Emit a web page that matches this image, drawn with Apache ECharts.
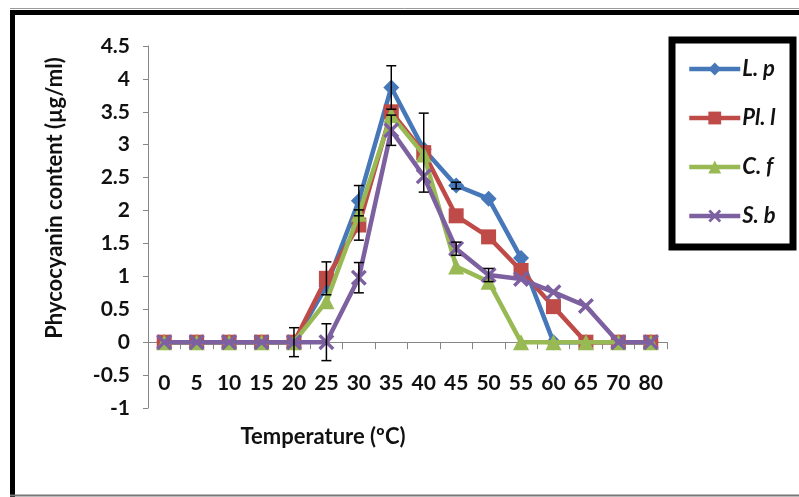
<!DOCTYPE html>
<html>
<head>
<meta charset="utf-8">
<script src="https://cdn.jsdelivr.net/npm/echarts@6/dist/echarts.min.js"></script>
<style>
html,body{margin:0;padding:0;background:#fff;}
#c{width:799px;height:497px;}
</style>
</head>
<body>
<div id="c"></div>
<script>
var temps = ['0','5','10','15','20','25','30','35','40','45','50','55','60','65','70','80'];
var yTicks = [-1, 4.5, 0.5];
var seriesNames = ['L. p','Pl. l','C. f','S. b'];
var Lp = [0,0,0,0,0,0.85,2.15,3.87,2.93,2.38,2.18,1.28,0,0,0,0];
var Pl = [0,0,0,0,0,0.97,1.78,3.5,2.88,1.92,1.6,1.09,0.54,0,0,0];
var Cf = [0,0,0,0,0,0.62,1.95,3.45,2.85,1.15,0.92,0,0,0,0,0];
var Sb = [0,0,0,0,0,0,0.98,3.22,2.52,1.42,1.02,0.96,0.76,0.55,0,0];
var errCat  = ['20','25','25','30','30','30','35','35','40','45','45','50'];
var errMid  = [0,0,0.97,2.15,1.78,0.98,3.87,3.22,2.88,2.38,1.42,1.02];
var errHalf = [0.22,0.28,0.25,0.23,0.23,0.23,0.33,0.23,0.6,0.05,0.1,0.1];

var colors = ['#4677B8','#BE4B48','#98B954','#7D60A0'];
var FONT = 'Lato';
var xSym = 'path://M0,1.5 L1.5,0 L5,3.5 L8.5,0 L10,1.5 L6.5,5 L10,8.5 L8.5,10 L5,6.5 L1.5,10 L0,8.5 L3.5,5 Z';
var symbols = ['diamond','rect','triangle',xSym];
var sizes = [16,15,16,16];
var allData = [Lp,Pl,Cf,Sb];

var chart = echarts.init(document.getElementById('c'), null, {renderer:'canvas'});

var series = allData.map(function(d,i){
  return {
    name: seriesNames[i],
    type: 'line',
    data: d,
    symbol: symbols[i],
    symbolSize: sizes[i],
    showAllSymbol: true,
    lineStyle: {color: colors[i], width: 4.5},
    itemStyle: {color: colors[i]},
    z: 2 + i,
    animation: false
  };
});

var errData = errCat.map(function(c,i){ return [c, errMid[i]-errHalf[i], errMid[i]+errHalf[i]]; });
series.push({
  type: 'custom',
  data: errData,
  z: 10,
  animation: false,
  encode: {x: 0, y: [1,2]},
  renderItem: function(params, api){
    var cat = api.value(0);
    var lo = api.coord([cat, api.value(1)]);
    var hi = api.coord([cat, api.value(2)]);
    var w = 5;
    var st = {stroke:'#000', lineWidth:1.5, fill:null};
    return {type:'group', children:[
      {type:'line', shape:{x1:lo[0],y1:lo[1],x2:hi[0],y2:hi[1]}, style:st},
      {type:'line', shape:{x1:lo[0]-w,y1:lo[1],x2:lo[0]+w,y2:lo[1]}, style:st},
      {type:'line', shape:{x1:hi[0]-w,y1:hi[1],x2:hi[0]+w,y2:hi[1]}, style:st}
    ]};
  }
});

var option = {
  animation: false,
  backgroundColor: '#fff',
  grid: {left:148, right:132, top:46, bottom:89, containLabel:false},
  xAxis: {
    type: 'category',
    data: temps,
    boundaryGap: true,
    axisLine: {onZero: true, lineStyle:{color:'#868686', width:1}},
    axisTick: {show:true, length:7, interval:0, lineStyle:{color:'#868686'}},
    axisLabel: {interval:0, margin:-35, color:'#111', fontFamily:FONT, fontWeight:'bold', fontSize:21},
    splitLine: {show:false}
  },
  yAxis: {
    type: 'value',
    min: yTicks[0], max: yTicks[1], interval: yTicks[2],
    axisLine: {show:true, onZero:false, lineStyle:{color:'#868686', width:1}},
    axisTick: {show:true, length:5, lineStyle:{color:'#868686'}},
    axisLabel: {margin:18, color:'#111', fontFamily:FONT, fontWeight:'bold', fontSize:21},
    splitLine: {show:false}
  },
  legend: {
    orient: 'vertical',
    left: 687, top: 58,
    padding: 0,
    itemWidth: 51, itemHeight: 16,
    itemGap: 27,
    data: seriesNames,
    itemStyle: {borderWidth: 0},
    lineStyle: {width: 4.5},
    textStyle: {color:'#111', fontFamily:FONT, fontWeight:'bold', fontStyle:'italic', fontSize:22, padding:[0,0,0,-3]}
  },
  graphic: [
    {type:'line', shape:{x1:10,y1:8.5,x2:799,y2:8.5}, style:{stroke:'#9a9a9a', lineWidth:1}, silent:true},
    {type:'rect', shape:{x:12.5,y:12.5,width:820,height:520}, style:{stroke:'#000', lineWidth:5, fill:null}, silent:true},
    {type:'line', shape:{x1:10,y1:495.5,x2:799,y2:495.5}, style:{stroke:'#777', lineWidth:2}, silent:true},
    {type:'rect', shape:{x:672,y:40,width:121,height:207}, style:{stroke:'#000', lineWidth:7, fill:null}, silent:true},
    {type:'text', x:323, y:437, style:{text:'Temperature (ºC)', fill:'#111', font:'bold 22px Lato', textAlign:'center', textVerticalAlign:'middle'}, silent:true},
    {type:'text', x:55, y:198, rotation:Math.PI/2, style:{text:'Phycocyanin content (µg/ml)', fill:'#111', font:'bold 22px Lato', textAlign:'center', textVerticalAlign:'middle'}, silent:true}
  ],
  series: series
};
chart.setOption(option);
</script>
</body>
</html>
